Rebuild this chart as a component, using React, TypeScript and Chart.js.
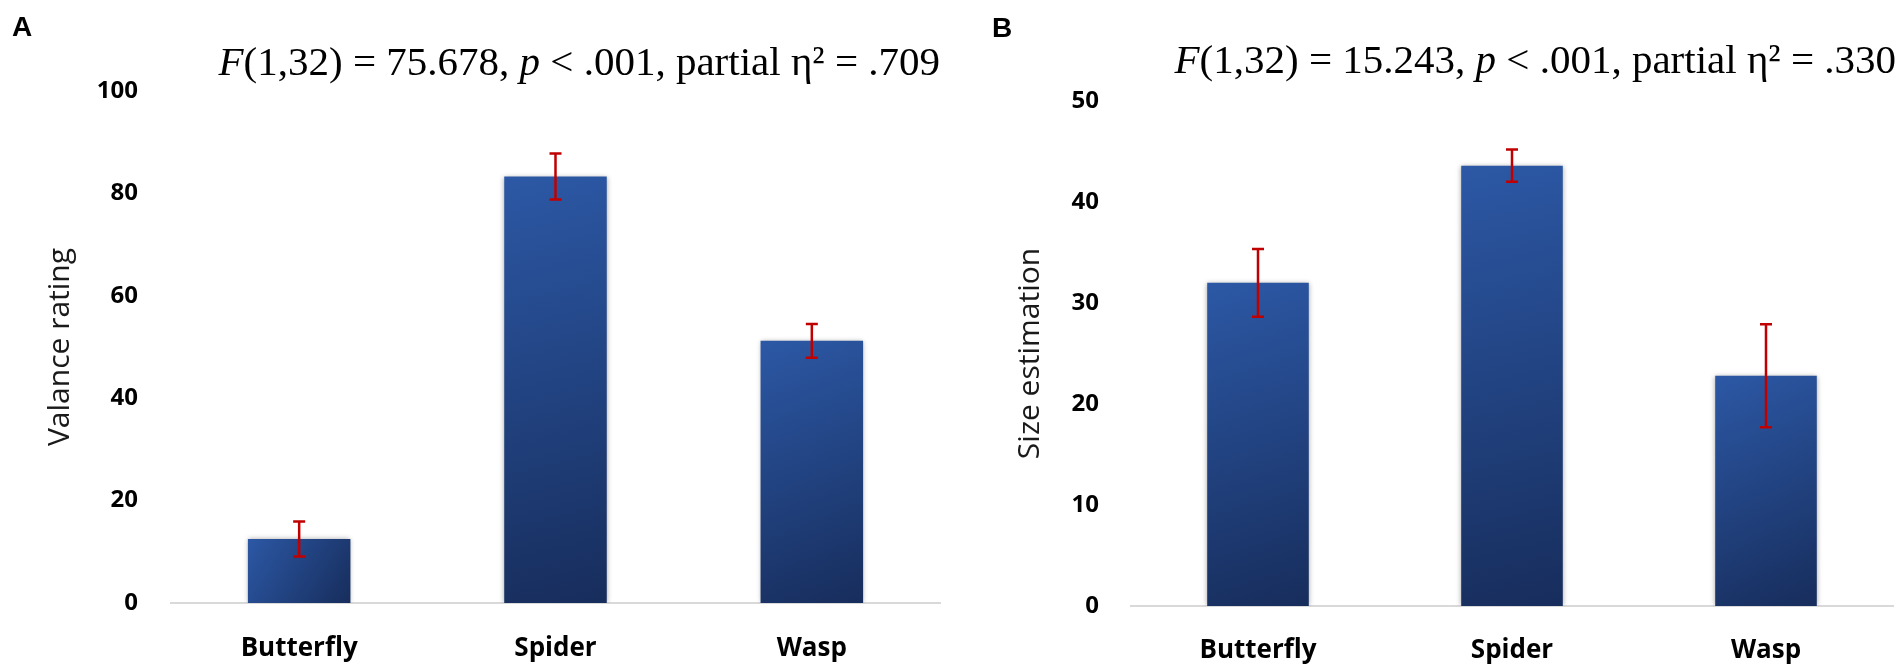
import { useEffect, useRef } from "react";
import { Chart, registerables } from "chart.js";

Chart.register(...registerables);

const categories = ["Butterfly", "Spider", "Wasp"];

// Panel A: valence rating
const valenceMeans = [12.5, 83.3, 51.2];
const valenceErrors = [3.4, 4.5, 3.3];
const valenceTicks = [0, 20, 40, 60, 80, 100];

// Panel B: size estimation
const sizeMeans = [32.0, 43.6, 22.8];
const sizeErrors = [3.35, 1.6, 5.1];
const sizeTicks = [0, 10, 20, 30, 40, 50];

const statsA = ["F", "(1,32) = 75.678, ", "p", " < .001, partial η² = .709"];
const statsB = ["F", "(1,32) = 15.243, ", "p", " < .001, partial η² = .330"];

const SANS = "'Open Sans', 'Noto Sans', sans-serif";
const SERIF = "'Liberation Serif', 'Times New Roman', serif";

interface PanelProps {
  letter: string;
  letterX: number;
  letterY: number;
  stats: string[];
  statsRight: number;
  statsBaseline: number;
  means: number[];
  errors: number[];
  ticks: number[];
  yTitle: string;
  left: number;
  width: number;
  padTop: number;
  padRight: number;
  axisWidth: number;
  axisHeight: number;
  titlePad: number;
  yTickPad: number;
  xTickPad: number;
}

const Panel = (props: PanelProps) => {
  const canvasRef = useRef<HTMLCanvasElement | null>(null);

  useEffect(() => {
    if (!canvasRef.current) return;
    const {
      letter, letterX, letterY, stats, statsRight, statsBaseline,
      means, errors, ticks, yTitle, padTop, padRight,
      axisWidth, axisHeight, titlePad, yTickPad, xTickPad,
    } = props;

    const barFill = (c: any) => {
      const chart = c.chart;
      const xs = chart.scales.x;
      const ys = chart.scales.y;
      if (!chart.chartArea || !xs || !ys) return "#24488a";
      const cx = xs.getPixelForValue(c.dataIndex);
      const half = (xs.width / categories.length) * 0.4 / 2;
      const top = ys.getPixelForValue(c.raw);
      const bot = ys.getPixelForValue(0);
      const g = chart.ctx.createLinearGradient(cx - half, top, cx + half, bot);
      g.addColorStop(0, "#2c58a5");
      g.addColorStop(1, "#172d5c");
      return g;
    };

    const decor = {
      id: "decor",
      beforeDatasetsDraw(chart: any) {
        const ctx = chart.ctx;
        ctx.save();
        ctx.shadowColor = "rgba(0,0,0,0.35)";
        ctx.shadowBlur = 5;
        ctx.shadowOffsetX = 0;
        ctx.shadowOffsetY = 0;
      },
      afterDatasetsDraw(chart: any) {
        const ctx = chart.ctx;
        ctx.restore();
        const ys = chart.scales.y;
        const meta = chart.getDatasetMeta(0);
        ctx.save();
        ctx.strokeStyle = "#c00000";
        ctx.lineWidth = 2.5;
        meta.data.forEach((bar: any, i: number) => {
          const yTop = ys.getPixelForValue(means[i] + errors[i]);
          const yBot = ys.getPixelForValue(means[i] - errors[i]);
          ctx.beginPath();
          ctx.moveTo(bar.x, yTop);
          ctx.lineTo(bar.x, yBot);
          ctx.moveTo(bar.x - 6, yTop);
          ctx.lineTo(bar.x + 6, yTop);
          ctx.moveTo(bar.x - 6, yBot);
          ctx.lineTo(bar.x + 6, yBot);
          ctx.stroke();
        });
        ctx.restore();
      },
      afterDraw(chart: any) {
        const ctx = chart.ctx;
        ctx.save();
        ctx.fillStyle = "#000";
        ctx.textBaseline = "alphabetic";
        ctx.font = "bold 28px 'Liberation Sans', Arial, sans-serif";
        ctx.textAlign = "left";
        ctx.fillText(letter, letterX, letterY);

        const fonts = stats.map((_, i) =>
          i % 2 === 0 ? `italic 41px ${SERIF}` : `41px ${SERIF}`
        );
        let total = 0;
        const widths = stats.map((s, i) => {
          ctx.font = fonts[i];
          const w = ctx.measureText(s).width;
          total += w;
          return w;
        });
        let x = statsRight - total;
        stats.forEach((s, i) => {
          ctx.font = fonts[i];
          ctx.fillText(s, x, statsBaseline);
          x += widths[i];
        });
        ctx.restore();
      },
    };

    const chart = new Chart(canvasRef.current, {
      type: "bar",
      data: {
        labels: categories,
        datasets: [
          {
            data: means,
            backgroundColor: barFill,
            borderWidth: 0,
            categoryPercentage: 1,
            barPercentage: 0.4,
          },
        ],
      },
      options: {
        animation: false,
        responsive: true,
        maintainAspectRatio: false,
        layout: { padding: { top: padTop, right: padRight, bottom: 0, left: 0 } },
        plugins: {
          legend: { display: false },
          tooltip: { enabled: false },
          title: { display: false },
        },
        scales: {
          x: {
            grid: { display: false },
            border: { display: true, color: "#d9d9d9", width: 2 },
            ticks: {
              color: "#000",
              padding: xTickPad,
              font: { family: SANS, size: 26, weight: "bold" },
            },
            afterFit: (s: any) => {
              s.height = axisHeight;
            },
          },
          y: {
            min: ticks[0],
            max: ticks[ticks.length - 1],
            afterBuildTicks: (s: any) => {
              s.ticks = ticks.map((v) => ({ value: v }));
            },
            grid: { display: false },
            border: { display: false },
            ticks: {
              color: "#000",
              padding: yTickPad,
              font: { family: SANS, size: 24, weight: "bold" },
            },
            title: {
              display: true,
              text: yTitle,
              color: "#1a1a1a",
              font: { family: SANS, size: 30 },
              padding: { top: titlePad, bottom: 0 },
            },
            afterFit: (s: any) => {
              s.width = axisWidth;
            },
          },
        },
      },
      plugins: [decor],
    } as any);

    return () => {
      chart.destroy();
    };
  }, []);

  return (
    <div
      style={{
        position: "absolute",
        left: props.left,
        top: 0,
        width: props.width,
        height: 667,
      }}
    >
      <canvas ref={canvasRef} />
    </div>
  );
};

export default function App() {
  return (
    <div
      style={{
        position: "absolute",
        left: 0,
        top: 0,
        width: 1904,
        height: 667,
        background: "#fff",
      }}
    >
      <Panel
        letter="A"
        letterX={12}
        letterY={36}
        stats={statsA}
        statsRight={940}
        statsBaseline={75}
        means={valenceMeans}
        errors={valenceErrors}
        ticks={valenceTicks}
        yTitle="Valance rating"
        left={0}
        width={945}
        padTop={91}
        padRight={5}
        axisWidth={171}
        axisHeight={64}
        titlePad={42}
        yTickPad={25}
        xTickPad={22}
      />
      <Panel
        letter="B"
        letterX={42}
        letterY={37}
        stats={statsB}
        statsRight={946}
        statsBaseline={73}
        means={sizeMeans}
        errors={sizeErrors}
        ticks={sizeTicks}
        yTitle="Size estimation"
        left={950}
        width={954}
        padTop={101}
        padRight={11}
        axisWidth={181}
        axisHeight={61}
        titlePad={62}
        yTickPad={24}
        xTickPad={21}
      />
    </div>
  );
}
